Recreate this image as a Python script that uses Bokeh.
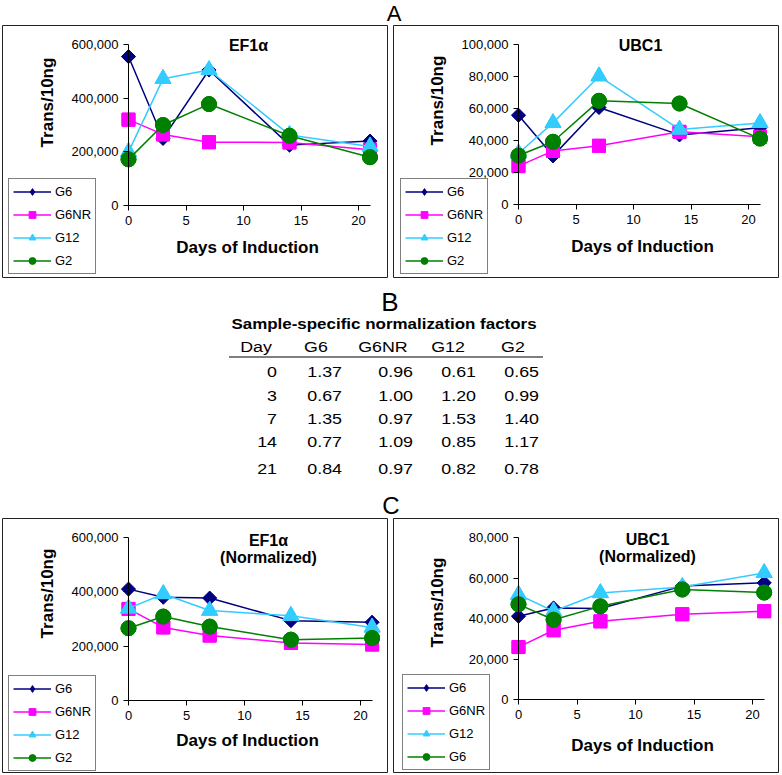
import math
from bokeh.plotting import figure
from bokeh.models import (Range1d, NumeralTickFormatter, FixedTicker, Legend,
                          LegendItem, Label, Div)
from bokeh.layouts import column, row
from bokeh.embed import file_html
from bokeh.resources import INLINE

# ---------------- data ----------------
days = [0, 3, 7, 14, 21]
series_names = ["G6", "G6NR", "G12", "G2"]
legend_labels_c_right = ["G6", "G6NR", "G12", "G6"]

ef1a_g6 = [555000, 250000, 505000, 225000, 240000]
ef1a_g6nr = [320000, 265000, 236000, 235000, 208000]
ef1a_g12 = [200000, 472000, 505000, 263000, 220000]
ef1a_g2 = [172000, 300000, 378000, 260000, 180000]

ubc_g6 = [55800, 30400, 60600, 43500, 48000]
ubc_g6nr = [24000, 33500, 36700, 45400, 42300]
ubc_g12 = [32000, 51000, 80200, 46900, 51000]
ubc_g2 = [30600, 39200, 64800, 63100, 41200]

ef1a_norm_g6 = [410000, 380000, 377000, 294000, 288000]
ef1a_norm_g6nr = [337000, 269000, 239000, 212000, 206000]
ef1a_norm_g12 = [339000, 392000, 331000, 312000, 269000]
ef1a_norm_g2 = [266000, 309000, 272000, 224000, 230000]

ubc_norm_g6 = [41100, 45200, 44900, 56000, 57600]
ubc_norm_g6nr = [25900, 34200, 38600, 42100, 43600]
ubc_norm_g12 = [51800, 43600, 52600, 55600, 62500]
ubc_norm_g2 = [47000, 39400, 46000, 54300, 52800]

x_ticks = [0, 5, 10, 15, 20]

# normalization factor table
table_title = "Sample-specific normalization factors"
table_header = ["Day", "G6", "G6NR", "G12", "G2"]
nf_day = [0, 3, 7, 14, 21]
nf_g6 = [1.37, 0.67, 1.35, 0.77, 0.84]
nf_g6nr = [0.96, 1.00, 0.97, 1.09, 0.97]
nf_g12 = [0.61, 1.20, 1.53, 0.85, 0.82]
nf_g2 = [0.65, 0.99, 1.40, 1.17, 0.78]

# ---------------- styles ----------------
FONT = "Liberation Sans"
colors = ["#000080", "#FF00FF", "#33CCFF", "#008000"]
markers = ["square", "square", "triangle", "circle"]
legend_markers = ["diamond", "square", "triangle", "circle"]
mangles = [math.pi / 4, 0.0, 0.0, 0.0]
msizes = [10, 13, 16, 15]
legend_msizes = [12, 13, 16, 15]


def make_panel(series, ymax, ystep, W, H, x0px, x20px, y0px, ytop_px,
               title_lines, title_pos, ylab_pos, xlab_pos, labels, leg_pos):
    # pixel geometry (relative to panel top-left) -> range extents
    sx = (x20px - x0px) / 20.0
    sy = (y0px - ytop_px) / float(ymax)
    xr = Range1d(-x0px / sx, (W - x0px) / sx)
    yr = Range1d(-(H - y0px) / sy, y0px / sy)
    p = figure(width=W, height=H, x_range=xr, y_range=yr,
               min_border=0, min_border_left=0, min_border_right=0,
               min_border_top=0, min_border_bottom=0,
               output_backend="svg", toolbar_location=None, tools="")
    p.outline_line_color = "#222222"
    p.outline_line_width = 1
    p.grid.visible = False
    p.background_fill_color = "white"
    p.border_fill_color = "white"

    p.xaxis.fixed_location = 0
    p.yaxis.fixed_location = 0
    p.xaxis.bounds = (0, 21)
    p.yaxis.bounds = (0, ymax)
    p.xaxis.ticker = FixedTicker(ticks=x_ticks)
    p.yaxis.ticker = FixedTicker(ticks=list(range(0, ymax + 1, ystep)))
    p.yaxis.formatter = NumeralTickFormatter(format="0,0")
    for ax in (p.xaxis[0], p.yaxis[0]):
        ax.minor_tick_line_color = None
        ax.major_tick_in = 0
        ax.major_tick_out = 5
        ax.axis_line_color = "#000000"
        ax.major_tick_line_color = "#000000"
        ax.major_label_text_font = FONT
        ax.major_label_text_font_size = "13px"
        ax.major_label_text_color = "#000000"
        ax.major_label_standoff = 5

    items = []
    for i, ys in enumerate(series):
        lr = p.line(days, ys, line_color=colors[i], line_width=1.5)
        # legend-style marker (drawn underneath, covered by the plot marker)
        lm = p.scatter(days, ys, marker=legend_markers[i],
                       size=legend_msizes[i], fill_color=colors[i],
                       line_color=colors[i])
        p.scatter(days, ys, marker=markers[i], size=msizes[i],
                  angle=mangles[i], fill_color=colors[i],
                  line_color=colors[i])
        items.append(LegendItem(label=labels[i], renderers=[lr, lm]))

    legend = Legend(items=items, location=(leg_pos[0], leg_pos[1]),
                    border_line_color="#000000", border_line_width=1,
                    background_fill_color="white", background_fill_alpha=1.0,
                    label_text_font=FONT, label_text_font_size="13px",
                    label_text_color="#000000",
                    glyph_width=38, glyph_height=17, label_height=17,
                    spacing=6, padding=4, label_standoff=4, margin=0)
    p.add_layout(legend)

    def lab(text, x, y, size, angle=0.0):
        p.add_layout(Label(x=x, y=H - y, x_units="screen", y_units="screen",
                           text=text, angle=angle, text_align="center",
                           text_baseline="middle", text_font=FONT,
                           text_font_size=size, text_font_style="bold",
                           text_color="#000000"))

    for k, t in enumerate(title_lines):
        lab(t, title_pos[0], title_pos[1] + 17 * k, "16px")
    lab("Trans/10ng", ylab_pos[0], ylab_pos[1], "17px", math.pi / 2)
    lab("Days of Induction", xlab_pos[0], xlab_pos[1], "17px")
    return p


pA1 = make_panel([ef1a_g6, ef1a_g6nr, ef1a_g12, ef1a_g2], 600000, 200000,
                 386, 253, 126, 356, 180, 19,
                 ["EF1α"], (246, 20), (45, 77), (245, 222), series_names, (6, 4))
pA2 = make_panel([ubc_g6, ubc_g6nr, ubc_g12, ubc_g2], 100000, 20000,
                 386, 253, 125, 355, 179, 19,
                 ["UBC1"], (247, 20), (44, 75), (249, 221), series_names, (7, 4))
pC1 = make_panel([ef1a_norm_g6, ef1a_norm_g6nr, ef1a_norm_g12, ef1a_norm_g2],
                 600000, 200000, 386, 255, 126, 358, 182, 19,
                 ["EF1α", "(Normalized)"], (266, 22), (45, 75), (245, 222),
                 series_names, (6, 2))
pC2 = make_panel([ubc_norm_g6, ubc_norm_g6nr, ubc_norm_g12, ubc_norm_g2],
                 80000, 20000, 386, 255, 125, 359, 181, 19,
                 ["UBC1", "(Normalized)"], (254, 21), (44, 84), (249, 227),
                 legend_labels_c_right, (9, 3))

# ---------------- letters and table ----------------
base = "position:absolute;font-family:'Liberation Sans',Arial,sans-serif;color:#000;white-space:nowrap;"

divA = Div(text=(
    '<div style="position:relative;width:782px;height:25px;">'
    f'<div style="{base}left:374px;top:2px;width:40px;text-align:center;font-size:22px;line-height:24px;">A</div>'
    '</div>'), width=782, height=25, margin=0)

html = ['<div style="position:relative;width:782px;height:240px;">']
html.append(f'<div style="{base}left:370px;top:10px;width:40px;text-align:center;font-size:26px;line-height:28px;">B</div>')
html.append(f'<div style="{base}left:184px;top:38px;width:400px;text-align:center;font-size:15px;line-height:16px;font-weight:bold;transform:scaleX(1.13);">{table_title}</div>')
hdr_cx = [256, 316, 383, 448, 513]
for t, cx in zip(table_header, hdr_cx):
    html.append(f'<div style="{base}left:{cx-50}px;top:60px;width:100px;text-align:center;font-size:15.5px;line-height:18px;transform:scaleX(1.15);">{t}</div>')
html.append('<div style="position:absolute;left:229px;top:78px;width:314px;height:2px;background:#7f7f7f;"></div>')
row_top = [85, 109, 132, 155, 182]
col_right = [277, 342, 413, 476, 539]
cols = [[str(d) for d in nf_day],
        ["%.2f" % v for v in nf_g6],
        ["%.2f" % v for v in nf_g6nr],
        ["%.2f" % v for v in nf_g12],
        ["%.2f" % v for v in nf_g2]]
for ci, colvals in enumerate(cols):
    for ri, txt in enumerate(colvals):
        html.append(f'<div style="{base}left:{col_right[ci]-60}px;top:{row_top[ri]}px;width:60px;text-align:right;font-size:15.5px;line-height:18px;transform:scaleX(1.15);transform-origin:right center;">{txt}</div>')
html.append(f'<div style="{base}left:371px;top:215px;width:40px;text-align:center;font-size:24px;line-height:26px;">C</div>')
html.append('</div>')
divB = Div(text="".join(html), width=782, height=240, margin=0)

rowA = row(pA1, pA2, spacing=5, margin=(0, 0, 0, 2))
rowC = row(pC1, pC2, spacing=5, margin=(0, 0, 0, 2))
layout = column(divA, rowA, divB, rowC, spacing=0, margin=0)

open("out.html", "w").write(file_html(layout, INLINE))
